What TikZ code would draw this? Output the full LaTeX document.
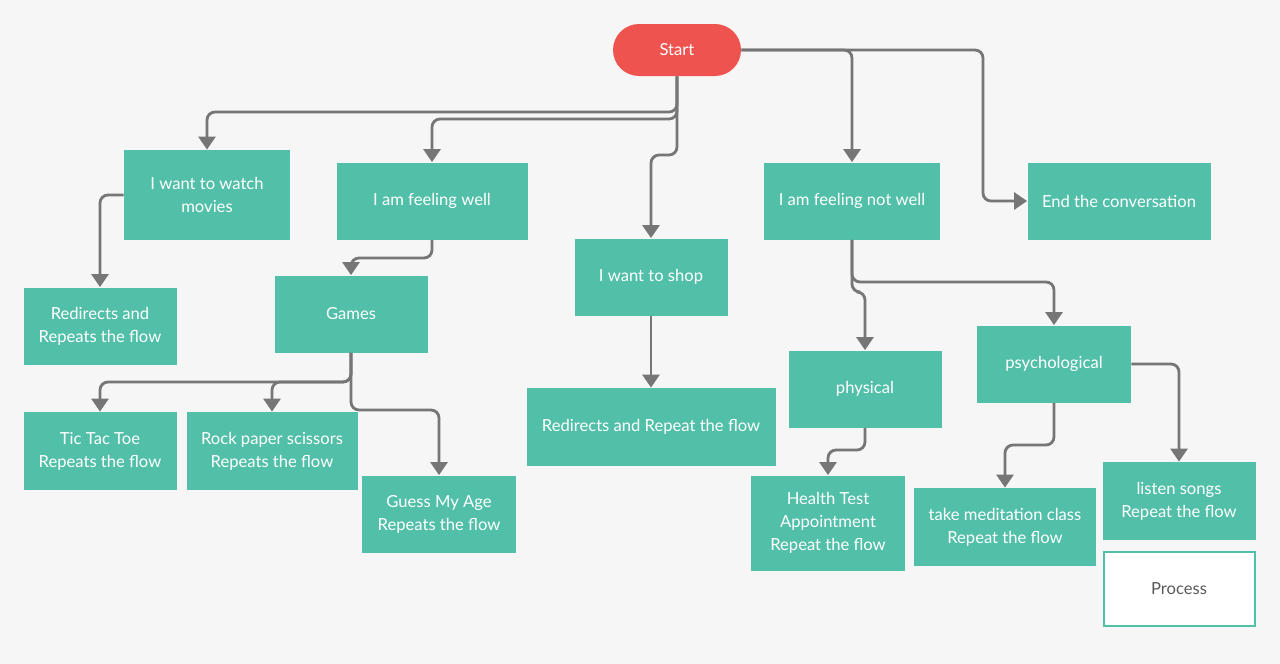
\documentclass[tikz,border=0pt]{standalone}
\usepackage{fontspec}
\setmainfont{Lato}
\usetikzlibrary{arrows.meta}
\definecolor{boxteal}{HTML}{52BFA9}
\definecolor{startred}{HTML}{EF5350}
\definecolor{linegray}{HTML}{767676}
\definecolor{bggray}{HTML}{F6F6F6}

\begin{document}
\begin{tikzpicture}[x=0.5pt,y=-0.5pt,
  box/.style={fill=boxteal, text=white, align=center, inner sep=0pt,
    font=\fontsize{8.3}{11.5}\selectfont},
  wh/.style 2 args={minimum width=#1*0.5pt, minimum height=#2*0.5pt},
  flow/.style={draw=linegray, line width=1.4pt, rounded corners=4pt,
    -{Triangle[width=8.5pt,length=6.5pt]}}]
  \fill[bggray] (0,0) rectangle (1280,664);
  \useasboundingbox (0,0) rectangle (1280,664);

  \node[box, fill=startred, wh={128}{52}, rounded corners=13pt] (start) at (677,50) {Start};

  \node[box, wh={166}{90}] (watch) at (207,195) {I want to watch\\movies};
  \node[box, wh={191}{77}] (well) at (432,201) {I am feeling well};
  \node[box, wh={153}{77}] (shop) at (651,277) {I want to shop};
  \node[box, wh={176}{77}] (notwell) at (852,201) {I am feeling not well};
  \node[box, wh={183}{77}] (end) at (1119,201) {End the conversation};

  \node[box, wh={153}{77}] (redir1) at (100,326) {Redirects and\\Repeats the flow};
  \node[box, wh={153}{77}] (games) at (351,314) {Games};
  \node[box, wh={249}{78}] (redir2) at (651,427) {Redirects and Repeat the flow};
  \node[box, wh={153}{77}] (physical) at (865,389) {physical};
  \node[box, wh={154}{77}] (psych) at (1054,364) {psychological};

  \node[box, wh={153}{78}] (ttt) at (100,451) {Tic Tac Toe\\Repeats the flow};
  \node[box, wh={171}{78}] (rps) at (272,451) {Rock paper scissors\\Repeats the flow};
  \node[box, wh={154}{77}] (guess) at (439,514) {Guess My Age\\Repeats the flow};
  \node[box, wh={154}{95}] (health) at (828,523) {Health Test\\Appointment\\Repeat the flow};
  \node[box, wh={182}{78}] (medit) at (1005,527) {take meditation class\\Repeat the flow};
  \node[box, wh={153}{78}] (songs) at (1179,501) {listen songs\\Repeat the flow};
  \node[box, wh={151}{74}, fill=white, draw=boxteal, line width=1pt, text=black!65] (process) at (1179,589) {Process};

  \draw[flow] (start.south) -- (677,112) -| (watch.north);
  \draw[flow] (start.south) -- (677,119) -| (well.north);
  \draw[flow] (start.south) -- (677,155) -| (shop.north);
  \draw[flow] (start.east) -| (notwell.north);
  \draw[flow] (start.east) -- (983,50) |- (end.west);

  \draw[flow] (watch.west) -| (redir1.north);
  \draw[flow] (well.south) -- (432,258) -| (games.north);
  \draw[flow] (shop.south) -- (redir2.north);

  \draw[flow] (games.south) -- (351,382) -| (ttt.north);
  \draw[flow] (games.south) -- (351,382) -| (rps.north);
  \draw[flow] (games.south) -- (351,410) -| (guess.north);

  \draw[flow] (notwell.south) -- (852,282) -| (psych.north);
  \draw[flow] (notwell.south) -- (852,292) -| (physical.north);
  \draw[flow] (physical.south) -- (865,450) -| (health.north);
  \draw[flow] (psych.south) -- (1054,445) -| (medit.north);
  \draw[flow] (psych.east) -| (songs.north);
\end{tikzpicture}
\end{document}
